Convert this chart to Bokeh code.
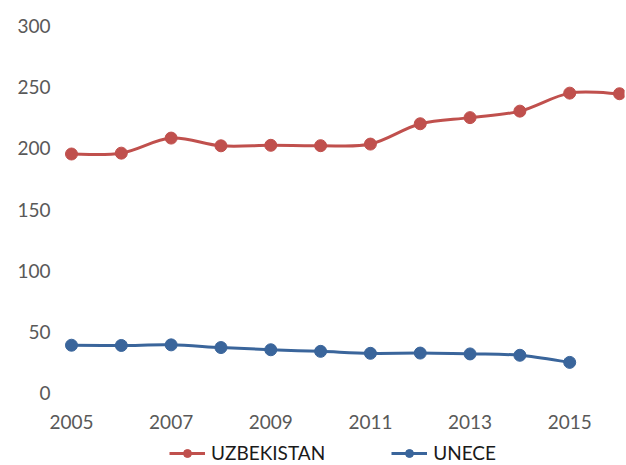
from bokeh.plotting import figure
from bokeh.layouts import column
from bokeh.models import FixedTicker, Legend, LegendItem, Range1d, ColumnDataSource
from bokeh.embed import file_html
from bokeh.resources import INLINE

years = [2005, 2006, 2007, 2008, 2009, 2010, 2011, 2012, 2013, 2014, 2015, 2016]
uzbekistan = [195.3, 196.0, 208.3, 202.0, 202.4, 202.1, 203.4, 220.0, 225.0, 230.3, 245.0, 244.5]
unece_years = [2005, 2006, 2007, 2008, 2009, 2010, 2011, 2012, 2013, 2014, 2015]
unece = [39.2, 39.0, 39.5, 37.3, 35.5, 34.2, 32.6, 32.8, 32.1, 31.0, 25.2]
y_ticks = [0, 50, 100, 150, 200, 250, 300]
x_ticks = [2005, 2007, 2009, 2011, 2013, 2015]
x_tick_labels = ["2005", "2007", "2009", "2011", "2013", "2015"]
series_names = ["UZBEKISTAN", "UNECE"]

RED = "#C0504D"
BLUE = "#3A659B"
FONT = "Lato"


def smooth_segments(xs, ys, t=1.0 / 6.0):
    """Bezier control points (Catmull-Rom style, like spreadsheet smoothed lines)."""
    n = len(xs)
    d = dict(x0=[], y0=[], x1=[], y1=[], cx0=[], cy0=[], cx1=[], cy1=[])
    for i in range(n - 1):
        p0 = (xs[max(i - 1, 0)], ys[max(i - 1, 0)])
        p1 = (xs[i], ys[i])
        p2 = (xs[i + 1], ys[i + 1])
        p3 = (xs[min(i + 2, n - 1)], ys[min(i + 2, n - 1)])
        d["x0"].append(p1[0]); d["y0"].append(p1[1])
        d["x1"].append(p2[0]); d["y1"].append(p2[1])
        d["cx0"].append(p1[0] + (p2[0] - p0[0]) * t)
        d["cy0"].append(p1[1] + (p2[1] - p0[1]) * t)
        d["cx1"].append(p2[0] - (p3[0] - p1[0]) * t)
        d["cy1"].append(p2[1] - (p3[1] - p1[1]) * t)
    return ColumnDataSource(d)


p = figure(width=626, height=441, output_backend="svg", toolbar_location=None,
           x_range=Range1d(2004.699, 2016.10), y_range=Range1d(-10, 310),
           min_border_left=56, min_border_right=2, min_border_top=13, min_border_bottom=36)
p.outline_line_color = None
p.xgrid.grid_line_color = None
p.ygrid.grid_line_color = None

for ax in (p.xaxis[0], p.yaxis[0]):
    ax.axis_line_color = None
    ax.major_tick_line_color = None
    ax.minor_tick_line_color = None
    ax.major_label_text_font = FONT
    ax.major_label_text_font_size = "19px"
    ax.major_label_text_color = "#595959"

p.yaxis[0].ticker = FixedTicker(ticks=y_ticks)
p.yaxis[0].major_label_standoff = 0
p.xaxis[0].ticker = FixedTicker(ticks=x_ticks)
p.xaxis[0].major_label_overrides = {k: v for k, v in zip(x_ticks, x_tick_labels)}
p.xaxis[0].major_label_standoff = 3

# small strip below the chart that only carries the legend
leg = figure(width=626, height=24, output_backend="svg", toolbar_location=None,
             x_range=Range1d(0, 1), y_range=Range1d(0, 1),
             x_axis_type=None, y_axis_type=None, min_border=0)
leg.outline_line_color = None
leg.xgrid.grid_line_color = None
leg.ygrid.grid_line_color = None

items = []
for xs, ys, col, name in [(years, uzbekistan, RED, series_names[0]),
                          (unece_years, unece, BLUE, series_names[1])]:
    src = smooth_segments(xs, ys)
    p.bezier(x0="x0", y0="y0", x1="x1", y1="y1", cx0="cx0", cy0="cy0",
             cx1="cx1", cy1="cy1", source=src, line_color=col, line_width=3)
    p.scatter(x=xs, y=ys, size=12, fill_color=col, line_color=col)
    # legend samples (their data lies outside the strip's range, so only the key shows)
    kl = leg.line(x=xs, y=ys, line_color=col, line_width=3)
    ks = leg.scatter(x=xs, y=ys, size=12, fill_color=col, line_color=col)
    items.append(LegendItem(label=name, renderers=[kl, ks]))

legend = Legend(items=items, orientation="horizontal", location=(113, 1),
                label_text_font=FONT, label_text_font_size="19px",
                label_text_color="#1a1a1a", glyph_width=36, glyph_height=20,
                label_height=20, label_standoff=6, spacing=66, padding=0, margin=0,
                border_line_color=None, background_fill_alpha=0)
leg.add_layout(legend, "center")

layout = column(p, leg, spacing=0)
open("out.html", "w").write(file_html(layout, INLINE))
